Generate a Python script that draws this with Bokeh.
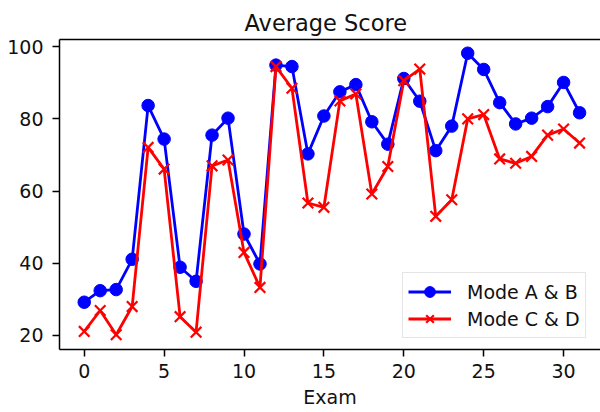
from bokeh.plotting import figure
from bokeh.models import Range1d, FixedTicker, LinearAxis
from bokeh.embed import file_html
from bokeh.resources import INLINE

# ---- data ----
exam = list(range(32))
mode_ab = [29.2, 32.4, 32.7, 41.1, 83.7, 74.4, 38.9, 35.0, 75.5, 80.2, 48.1, 39.8,
           94.9, 94.5, 70.3, 80.8, 87.5, 89.5, 79.2, 73.0, 91.2, 84.9, 71.2, 78.0,
           98.2, 93.7, 84.5, 78.6, 80.2, 83.4, 90.1, 81.7]
mode_cd = [21.1, 26.9, 20.2, 28.0, 72.1, 66.1, 25.2, 20.9, 67.0, 68.6, 43.0, 33.3,
           94.5, 88.5, 56.7, 55.5, 85.0, 86.9, 59.2, 66.8, 90.6, 93.8, 53.0, 57.6,
           80.0, 81.2, 68.9, 67.7, 69.6, 75.5, 77.2, 73.3]
x_ticks = [0, 5, 10, 15, 20, 25, 30]
y_ticks = [20, 40, 60, 80, 100]
title_text = "Average Score"
x_label = "Exam"
label_ab = "Mode A & B"
label_cd = "Mode C & D"

FONT = "DejaVu Sans"

p = figure(width=600, height=412,
           x_range=Range1d(-1.547, 32.31), y_range=Range1d(16.1, 102.0),
           output_backend="svg", toolbar_location=None,
           min_border_left=59, min_border_right=0,
           min_border_top=39, min_border_bottom=63)
p.xgrid.visible = False
p.ygrid.visible = False
p.outline_line_color = None
p.background_fill_color = "white"
p.border_fill_color = "white"

p.title.text = title_text
p.title.align = "left"
p.title.offset = 185
p.title.standoff = 8
p.title.text_font = FONT
p.title.text_font_size = "22.5px"
p.title.text_font_style = "normal"
p.title.text_color = "#111111"

xax = p.below[0]
yax = p.left[0]

for ax in (xax, yax):
    ax.axis_line_color = "black"
    ax.axis_line_width = 1.5
    ax.major_tick_line_color = "black"
    ax.major_tick_line_width = 1.5
    ax.major_tick_in = 0
    ax.major_tick_out = 7
    ax.minor_tick_in = 0
    ax.minor_tick_out = 0
    ax.major_label_text_font = FONT
    ax.major_label_text_font_size = "19px"
    ax.major_label_text_color = "#111111"

xax.ticker = FixedTicker(ticks=x_ticks)
yax.ticker = FixedTicker(ticks=y_ticks)
xax.major_label_standoff = 7
yax.major_label_standoff = 9
xax.axis_label = x_label
xax.axis_label_text_font = FONT
xax.axis_label_text_font_size = "19px"
xax.axis_label_text_font_style = "normal"
xax.axis_label_text_color = "#111111"
xax.axis_label_standoff = 5

# top frame line (right side cropped in reference)
top_axis = LinearAxis(ticker=FixedTicker(ticks=[]), major_label_text_font_size="0px",
                      major_tick_out=0, major_tick_in=0, minor_tick_out=0, minor_tick_in=0,
                      major_label_standoff=0,
                      axis_line_color="black", axis_line_width=1.5)
p.add_layout(top_axis, "above")

p.line(exam, mode_ab, line_color="#0000ff", line_width=2.8, legend_label=label_ab)
p.scatter(exam, mode_ab, marker="circle", size=12.5, fill_color="#0000ff",
          line_color="#0000ff", legend_label=label_ab)
p.line(exam, mode_cd, line_color="#ff0000", line_width=2.8, legend_label=label_cd)
p.scatter(exam, mode_cd, marker="x", size=15, line_color="#ff0000", line_width=2.2,
          legend_label=label_cd)

lg = p.legend[0]
lg.location = (343, 11)
lg.margin = 0
lg.padding = 5
lg.spacing = 0
lg.glyph_width = 43
lg.glyph_height = 27
lg.label_height = 27
lg.label_standoff = 16
lg.label_text_font = FONT
lg.label_text_font_size = "19px"
lg.label_text_color = "#111111"
lg.border_line_color = "#cccccc"
lg.border_line_width = 1
lg.background_fill_alpha = 0.8

open("out.html", "w").write(file_html(p, INLINE))
